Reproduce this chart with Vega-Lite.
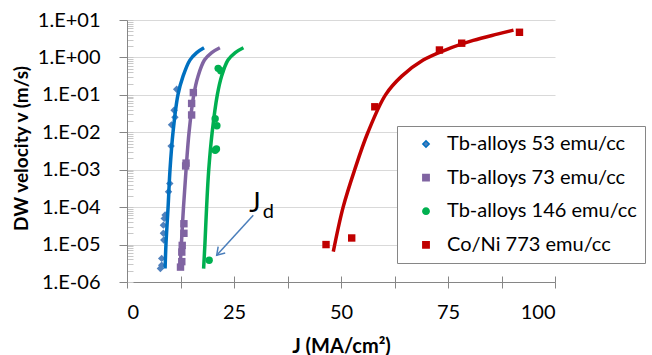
{
  "$schema": "https://vega.github.io/schema/vega-lite/v6.json",
  "width": 428,
  "height": 262,
  "autosize": "none",
  "padding": {"left": 127, "top": 20, "right": 97, "bottom": 73},
  "background": "white",
  "config": {"view": {"stroke": null}, "font": "Lato"},
  "datasets": {
    "pts": [
      {"series": "Tb-alloys 53 emu/cc", "J": 11.6, "v": 0.141},
      {"series": "Tb-alloys 53 emu/cc", "J": 11.0, "v": 0.0389},
      {"series": "Tb-alloys 53 emu/cc", "J": 11.2, "v": 0.0251},
      {"series": "Tb-alloys 53 emu/cc", "J": 10.4, "v": 0.0158},
      {"series": "Tb-alloys 53 emu/cc", "J": 10.3, "v": 0.00427},
      {"series": "Tb-alloys 53 emu/cc", "J": 10.0, "v": 0.000427},
      {"series": "Tb-alloys 53 emu/cc", "J": 9.7, "v": 0.000257},
      {"series": "Tb-alloys 53 emu/cc", "J": 8.9, "v": 6.17e-5},
      {"series": "Tb-alloys 53 emu/cc", "J": 8.7, "v": 5.0e-5},
      {"series": "Tb-alloys 53 emu/cc", "J": 8.5, "v": 3.3e-5},
      {"series": "Tb-alloys 53 emu/cc", "J": 8.5, "v": 2.0e-5},
      {"series": "Tb-alloys 53 emu/cc", "J": 8.6, "v": 1.32e-5},
      {"series": "Tb-alloys 53 emu/cc", "J": 8.1, "v": 4.27e-6},
      {"series": "Tb-alloys 53 emu/cc", "J": 8.1, "v": 2.82e-6},
      {"series": "Tb-alloys 53 emu/cc", "J": 7.8, "v": 2.29e-6},
      {"series": "Tb-alloys 73 emu/cc", "J": 15.5, "v": 0.115},
      {"series": "Tb-alloys 73 emu/cc", "J": 15.1, "v": 0.059},
      {"series": "Tb-alloys 73 emu/cc", "J": 15.1, "v": 0.029},
      {"series": "Tb-alloys 73 emu/cc", "J": 13.8, "v": 0.0015},
      {"series": "Tb-alloys 73 emu/cc", "J": 13.7, "v": 0.00126},
      {"series": "Tb-alloys 73 emu/cc", "J": 13.3, "v": 3.6e-5},
      {"series": "Tb-alloys 73 emu/cc", "J": 13.3, "v": 2.0e-5},
      {"series": "Tb-alloys 73 emu/cc", "J": 12.9, "v": 9.5e-6},
      {"series": "Tb-alloys 73 emu/cc", "J": 12.8, "v": 6.3e-6},
      {"series": "Tb-alloys 73 emu/cc", "J": 12.8, "v": 3.5e-6},
      {"series": "Tb-alloys 73 emu/cc", "J": 12.5, "v": 2.5e-6},
      {"series": "Tb-alloys 146 emu/cc", "J": 21.3, "v": 0.51},
      {"series": "Tb-alloys 146 emu/cc", "J": 21.9, "v": 0.44},
      {"series": "Tb-alloys 146 emu/cc", "J": 20.6, "v": 0.023},
      {"series": "Tb-alloys 146 emu/cc", "J": 21.0, "v": 0.015},
      {"series": "Tb-alloys 146 emu/cc", "J": 20.6, "v": 0.0033},
      {"series": "Tb-alloys 146 emu/cc", "J": 20.9, "v": 0.0036},
      {"series": "Tb-alloys 146 emu/cc", "J": 19.2, "v": 3.8e-6},
      {"series": "Co/Ni 773 emu/cc", "J": 46.5, "v": 1.0e-5},
      {"series": "Co/Ni 773 emu/cc", "J": 52.5, "v": 1.5e-5},
      {"series": "Co/Ni 773 emu/cc", "J": 57.9, "v": 0.048},
      {"series": "Co/Ni 773 emu/cc", "J": 73.0, "v": 1.58},
      {"series": "Co/Ni 773 emu/cc", "J": 78.2, "v": 2.4},
      {"series": "Co/Ni 773 emu/cc", "J": 91.7, "v": 4.7}
    ],
    "fits": [
      {"series": "Tb-alloys 53 emu/cc", "J": 8.9, "v": 2.29e-6},
      {"series": "Tb-alloys 53 emu/cc", "J": 9.1, "v": 1e-5},
      {"series": "Tb-alloys 53 emu/cc", "J": 9.6, "v": 1e-4},
      {"series": "Tb-alloys 53 emu/cc", "J": 10.05, "v": 0.001},
      {"series": "Tb-alloys 53 emu/cc", "J": 10.75, "v": 0.01},
      {"series": "Tb-alloys 53 emu/cc", "J": 11.9, "v": 0.1},
      {"series": "Tb-alloys 53 emu/cc", "J": 13.1, "v": 0.316},
      {"series": "Tb-alloys 53 emu/cc", "J": 14.7, "v": 0.85},
      {"series": "Tb-alloys 53 emu/cc", "J": 16.3, "v": 1.35},
      {"series": "Tb-alloys 53 emu/cc", "J": 18.0, "v": 1.82},
      {"series": "Tb-alloys 73 emu/cc", "J": 12.4, "v": 2.29e-6},
      {"series": "Tb-alloys 73 emu/cc", "J": 12.7, "v": 1e-5},
      {"series": "Tb-alloys 73 emu/cc", "J": 13.2, "v": 1e-4},
      {"series": "Tb-alloys 73 emu/cc", "J": 13.8, "v": 0.001},
      {"series": "Tb-alloys 73 emu/cc", "J": 14.5, "v": 0.01},
      {"series": "Tb-alloys 73 emu/cc", "J": 15.6, "v": 0.1},
      {"series": "Tb-alloys 73 emu/cc", "J": 16.6, "v": 0.316},
      {"series": "Tb-alloys 73 emu/cc", "J": 18.1, "v": 0.85},
      {"series": "Tb-alloys 73 emu/cc", "J": 19.8, "v": 1.35},
      {"series": "Tb-alloys 73 emu/cc", "J": 21.7, "v": 1.82},
      {"series": "Tb-alloys 146 emu/cc", "J": 17.9, "v": 2.29e-6},
      {"series": "Tb-alloys 146 emu/cc", "J": 18.2, "v": 1e-5},
      {"series": "Tb-alloys 146 emu/cc", "J": 18.6, "v": 1e-4},
      {"series": "Tb-alloys 146 emu/cc", "J": 19.1, "v": 0.001},
      {"series": "Tb-alloys 146 emu/cc", "J": 19.9, "v": 0.01},
      {"series": "Tb-alloys 146 emu/cc", "J": 21.1, "v": 0.1},
      {"series": "Tb-alloys 146 emu/cc", "J": 22.1, "v": 0.316},
      {"series": "Tb-alloys 146 emu/cc", "J": 23.6, "v": 0.85},
      {"series": "Tb-alloys 146 emu/cc", "J": 25.3, "v": 1.35},
      {"series": "Tb-alloys 146 emu/cc", "J": 27.2, "v": 1.82},
      {"series": "Co/Ni 773 emu/cc", "J": 48.2, "v": 6.46e-6},
      {"series": "Co/Ni 773 emu/cc", "J": 50.5, "v": 1e-4},
      {"series": "Co/Ni 773 emu/cc", "J": 53.2, "v": 0.001},
      {"series": "Co/Ni 773 emu/cc", "J": 56.3, "v": 0.01},
      {"series": "Co/Ni 773 emu/cc", "J": 60.4, "v": 0.1},
      {"series": "Co/Ni 773 emu/cc", "J": 64.2, "v": 0.316},
      {"series": "Co/Ni 773 emu/cc", "J": 69.2, "v": 0.85},
      {"series": "Co/Ni 773 emu/cc", "J": 74.5, "v": 1.6},
      {"series": "Co/Ni 773 emu/cc", "J": 80.9, "v": 2.85},
      {"series": "Co/Ni 773 emu/cc", "J": 86.5, "v": 4.2},
      {"series": "Co/Ni 773 emu/cc", "J": 90.3, "v": 5.37}
    ],
    "arrow": [
      {"J": 29.5, "v": 6.1e-5, "J2": 20.96, "v2": 5.2e-6}
    ],
    "labelJ": [{"J": 29.9, "v": 1.2e-4, "t": "J"}],
    "labelD": [{"J": 33.0, "v": 7.6e-5, "t": "d"}]
  },
  "layer": [
    {
      "data": {"name": "pts"},
      "mark": {"type": "point", "filled": true, "opacity": 1, "size": 55},
      "encoding": {
        "x": {
          "field": "J", "type": "quantitative",
          "scale": {"domain": [0, 100], "nice": false, "zero": false},
          "axis": {
            "orient": "bottom",
            "values": [0, 12.5, 25, 37.5, 50, 62.5, 75, 87.5, 100],
            "tickSize": -6, "tickColor": "#868686", "labels": false,
            "domain": false, "grid": false, "title": null
          }
        },
        "y": {
          "field": "v", "type": "quantitative",
          "scale": {"type": "log", "domain": [1e-6, 10], "nice": false},
          "axis": {
            "orient": "left",
            "values": [1e-6, 2e-6, 3e-6, 4e-6, 5e-6, 6e-6, 7e-6, 8e-6, 9e-6,
                       1e-5, 2e-5, 3e-5, 4e-5, 5e-5, 6e-5, 7e-5, 8e-5, 9e-5,
                       1e-4, 2e-4, 3e-4, 4e-4, 5e-4, 6e-4, 7e-4, 8e-4, 9e-4,
                       0.001, 0.002, 0.003, 0.004, 0.005, 0.006, 0.007, 0.008, 0.009,
                       0.01, 0.02, 0.03, 0.04, 0.05, 0.06, 0.07, 0.08, 0.09,
                       0.1, 0.2, 0.3, 0.4, 0.5, 0.6, 0.7, 0.8, 0.9,
                       1, 2, 3, 4, 5, 6, 7, 8, 9, 10],
            "tickSize": -6, "tickColor": "#C8C8C8", "labels": false,
            "domain": false, "grid": false, "title": null
          }
        },
        "color": {
          "field": "series", "type": "nominal",
          "scale": {
            "domain": ["Tb-alloys 53 emu/cc", "Tb-alloys 73 emu/cc", "Tb-alloys 146 emu/cc", "Co/Ni 773 emu/cc"],
            "range": ["#4F81BD", "#8064A2", "#00B050", "#C00000"]
          },
          "legend": {
            "orient": "none", "legendX": 270, "legendY": 106,
            "title": null, "labelFont": "Lato", "labelFontSize": 20, "labelColor": "#000000",
            "labelLimit": 400, "symbolSize": 40, "padding": 8, "rowPadding": 13.6,
            "symbolOffset": 11, "labelOffset": 11,
            "strokeColor": "#868686", "fillColor": "white"
          }
        },
        "shape": {
          "field": "series", "type": "nominal",
          "scale": {
            "domain": ["Tb-alloys 53 emu/cc", "Tb-alloys 73 emu/cc", "Tb-alloys 146 emu/cc", "Co/Ni 773 emu/cc"],
            "range": ["diamond", "square", "circle", "square"]
          }
        }
      }
    },
    {
      "data": {"name": "fits"},
      "mark": {"type": "line", "strokeWidth": 3.5, "interpolate": "catmull-rom"},
      "encoding": {
        "x": {
          "field": "J", "type": "quantitative",
          "scale": {"domain": [0, 100], "nice": false, "zero": false},
          "axis": {
            "orient": "bottom",
            "values": [0, 12.5, 25, 37.5, 50, 62.5, 75, 87.5, 100],
            "labelExpr": "datum.value % 25 == 0 ? datum.label : ''",
            "tickSize": 6, "tickColor": "#868686", "domainColor": "#868686",
            "labelFontSize": 20, "labelColor": "#000000", "labelPadding": 14,
            "grid": false,
            "title": "J (MA/cm²)", "titleFontSize": 20, "titleFontWeight": "bold",
            "titleColor": "#000000", "titleX": 214, "titleY": 70, "titleBaseline": "alphabetic"
          }
        },
        "y": {
          "field": "v", "type": "quantitative",
          "scale": {"type": "log", "domain": [1e-6, 10], "nice": false},
          "axis": {
            "orient": "left",
            "values": [1e-6, 1e-5, 1e-4, 0.001, 0.01, 0.1, 1, 10],
            "labelExpr": "'1.E' + (datum.value >= 1 ? '+' : '-') + '0' + abs(round(log(datum.value) / LN10))",
            "tickSize": 8, "tickColor": "#868686", "domainColor": "#868686",
            "labelFontSize": 20, "labelColor": "#000000", "labelPadding": 19,
            "grid": true, "gridColor": "#D9D9D9", "gridWidth": 1,
            "title": "DW velocity v (m/s)", "titleFontSize": 19, "titleFontWeight": "bold",
            "titleColor": "#000000", "titleX": -100, "titleY": 128, "titleBaseline": "alphabetic", "titleAngle": -90
          }
        },
        "stroke": {
          "field": "series", "type": "nominal",
          "scale": {
            "domain": ["Tb-alloys 53 emu/cc", "Tb-alloys 73 emu/cc", "Tb-alloys 146 emu/cc", "Co/Ni 773 emu/cc"],
            "range": ["#0070C0", "#8064A2", "#00B050", "#C00000"]
          },
          "legend": null
        }
      }
    },
    {
      "data": {"name": "arrow"},
      "mark": {"type": "rule", "color": "#4A7EBB", "strokeWidth": 1.5},
      "encoding": {
        "x": {"field": "J", "type": "quantitative", "axis": null},
        "y": {"field": "v", "type": "quantitative", "scale": {"type": "log"}, "axis": null},
        "x2": {"field": "J2"},
        "y2": {"field": "v2"}
      }
    },
    {
      "data": {"name": "arrow"},
      "mark": {"type": "point", "shape": "M-0.55,0.85L0,0L0.55,0.85", "filled": false, "stroke": "#4A7EBB", "strokeWidth": 1.5, "size": 300, "angle": 222.5, "opacity": 1},
      "encoding": {
        "x": {"field": "J2", "type": "quantitative", "axis": null},
        "y": {"field": "v2", "type": "quantitative", "scale": {"type": "log"}, "axis": null}
      }
    },
    {
      "data": {"name": "labelJ"},
      "mark": {"type": "text", "fontSize": 27, "font": "Lato", "color": "#000000", "align": "center", "baseline": "middle"},
      "encoding": {
        "x": {"field": "J", "type": "quantitative", "axis": null},
        "y": {"field": "v", "type": "quantitative", "scale": {"type": "log"}, "axis": null},
        "text": {"field": "t"}
      }
    },
    {
      "data": {"name": "labelD"},
      "mark": {"type": "text", "fontSize": 20, "font": "Lato", "color": "#000000", "align": "center", "baseline": "middle"},
      "encoding": {
        "x": {"field": "J", "type": "quantitative", "axis": null},
        "y": {"field": "v", "type": "quantitative", "scale": {"type": "log"}, "axis": null},
        "text": {"field": "t"}
      }
    }
  ],
  "resolve": {"axis": {"x": "independent", "y": "independent"}}
}
